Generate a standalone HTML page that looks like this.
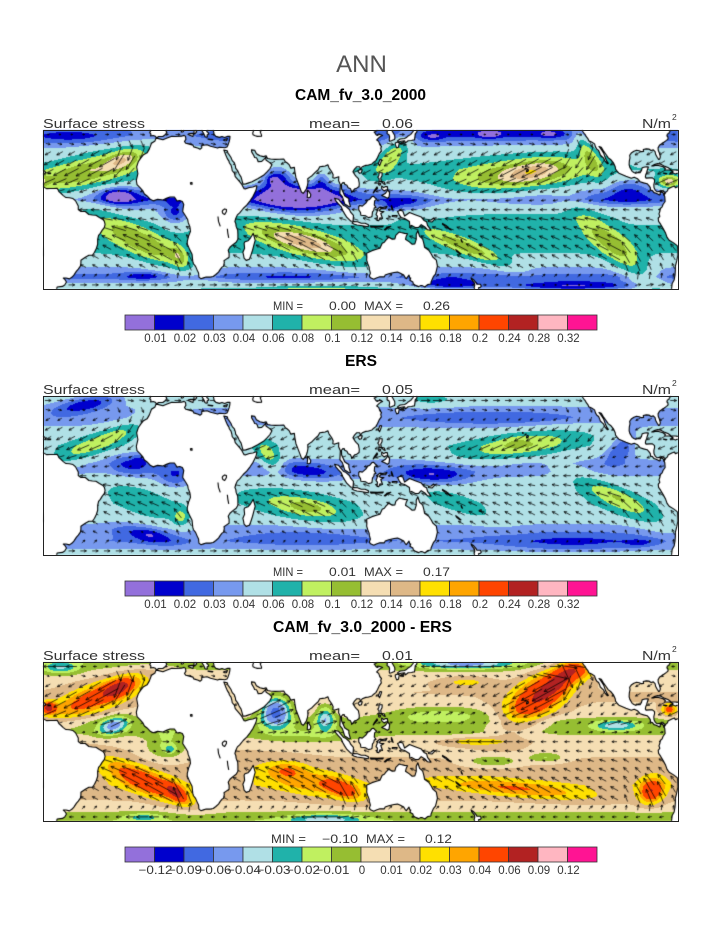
<!DOCTYPE html>
<html><head><meta charset="utf-8">
<style>
html,body{margin:0;padding:0;background:#fff;width:723px;height:935px;overflow:hidden;}
#c{position:absolute;left:0;top:0;}
svg{position:absolute;left:0;top:0;}
text{font-family:"Liberation Sans",sans-serif;fill:#222;}
.t{font-size:13px;fill:#333;}
.b{font-weight:bold;font-size:15.5px;fill:#000;}
.m{font-size:11.5px;fill:#333;}
.l{font-size:11.5px;text-anchor:middle;fill:#333;}
</style></head><body>
<canvas id="c" width="723" height="935"></canvas>
<svg width="723" height="935" viewBox="0 0 723 935" xmlns="http://www.w3.org/2000/svg">
<defs>
<g id="cb" stroke="#333" stroke-width="0.8">
<rect x="125" y="0" width="29.5" height="15" fill="#9370DB"/>
<rect x="154.5" y="0" width="29.5" height="15" fill="#0000CD"/>
<rect x="184" y="0" width="29.5" height="15" fill="#4169E1"/>
<rect x="213.5" y="0" width="29.5" height="15" fill="#7799EE"/>
<rect x="243" y="0" width="29.5" height="15" fill="#B0E0E6"/>
<rect x="272.5" y="0" width="29.5" height="15" fill="#20B2AA"/>
<rect x="302" y="0" width="29.5" height="15" fill="#C0F060"/>
<rect x="331.5" y="0" width="29.5" height="15" fill="#96BE32"/>
<rect x="361" y="0" width="29.5" height="15" fill="#F5DEB3"/>
<rect x="390.5" y="0" width="29.5" height="15" fill="#DEB887"/>
<rect x="420" y="0" width="29.5" height="15" fill="#FFE000"/>
<rect x="449.5" y="0" width="29.5" height="15" fill="#FFA500"/>
<rect x="479" y="0" width="29.5" height="15" fill="#FF4500"/>
<rect x="508.5" y="0" width="29.5" height="15" fill="#B22222"/>
<rect x="538" y="0" width="29.5" height="15" fill="#FFB6C1"/>
<rect x="567.5" y="0" width="29.5" height="15" fill="#FF1493"/>
</g>
</defs>
<text x="361.5" y="72" font-size="24" text-anchor="middle" style="fill:#555">ANN</text>

<!-- Panel 1 -->
<text class="b" x="295" y="100" textLength="131" lengthAdjust="spacingAndGlyphs">CAM_fv_3.0_2000</text>
<text class="t" x="43" y="128" textLength="102" lengthAdjust="spacingAndGlyphs">Surface stress</text>
<text class="t" x="309" y="128" textLength="51" lengthAdjust="spacingAndGlyphs">mean=</text>
<text class="t" x="382" y="128" textLength="31" lengthAdjust="spacingAndGlyphs">0.06</text>
<text class="t" x="642" y="128" textLength="29" lengthAdjust="spacingAndGlyphs">N/m</text>
<text x="672" y="120" font-size="8.5" style="fill:#333">2</text>
<rect x="43.5" y="130.5" width="635" height="159" fill="none" stroke="#222" stroke-width="1"/>
<text class="m" x="273" y="310" textLength="30" lengthAdjust="spacingAndGlyphs">MIN =</text>
<text class="m" x="329" y="310" textLength="27" lengthAdjust="spacingAndGlyphs">0.00</text>
<text class="m" x="364" y="310" textLength="39" lengthAdjust="spacingAndGlyphs">MAX =</text>
<text class="m" x="423" y="310" textLength="27" lengthAdjust="spacingAndGlyphs">0.26</text>
<use href="#cb" transform="translate(0,315)"/>
<g transform="translate(1,342)">
<text class="l" x="154.5" y="0">0.01</text><text class="l" x="184" y="0">0.02</text><text class="l" x="213.5" y="0">0.03</text><text class="l" x="243" y="0">0.04</text><text class="l" x="272.5" y="0">0.06</text><text class="l" x="302" y="0">0.08</text><text class="l" x="331.5" y="0">0.1</text><text class="l" x="361" y="0">0.12</text><text class="l" x="390.5" y="0">0.14</text><text class="l" x="420" y="0">0.16</text><text class="l" x="449.5" y="0">0.18</text><text class="l" x="479" y="0">0.2</text><text class="l" x="508.5" y="0">0.24</text><text class="l" x="538" y="0">0.28</text><text class="l" x="567.5" y="0">0.32</text>
</g>

<!-- Panel 2 -->
<text class="b" x="345" y="366" textLength="32" lengthAdjust="spacingAndGlyphs">ERS</text>
<text class="t" x="43" y="394" textLength="102" lengthAdjust="spacingAndGlyphs">Surface stress</text>
<text class="t" x="309" y="394" textLength="51" lengthAdjust="spacingAndGlyphs">mean=</text>
<text class="t" x="382" y="394" textLength="31" lengthAdjust="spacingAndGlyphs">0.05</text>
<text class="t" x="642" y="394" textLength="29" lengthAdjust="spacingAndGlyphs">N/m</text>
<text x="672" y="386" font-size="8.5" style="fill:#333">2</text>
<rect x="43.5" y="396.5" width="635" height="159" fill="none" stroke="#222" stroke-width="1"/>
<text class="m" x="273" y="576" textLength="30" lengthAdjust="spacingAndGlyphs">MIN =</text>
<text class="m" x="329" y="576" textLength="27" lengthAdjust="spacingAndGlyphs">0.01</text>
<text class="m" x="364" y="576" textLength="39" lengthAdjust="spacingAndGlyphs">MAX =</text>
<text class="m" x="423" y="576" textLength="27" lengthAdjust="spacingAndGlyphs">0.17</text>
<use href="#cb" transform="translate(0,581)"/>
<g transform="translate(1,608)">
<text class="l" x="154.5" y="0">0.01</text><text class="l" x="184" y="0">0.02</text><text class="l" x="213.5" y="0">0.03</text><text class="l" x="243" y="0">0.04</text><text class="l" x="272.5" y="0">0.06</text><text class="l" x="302" y="0">0.08</text><text class="l" x="331.5" y="0">0.1</text><text class="l" x="361" y="0">0.12</text><text class="l" x="390.5" y="0">0.14</text><text class="l" x="420" y="0">0.16</text><text class="l" x="449.5" y="0">0.18</text><text class="l" x="479" y="0">0.2</text><text class="l" x="508.5" y="0">0.24</text><text class="l" x="538" y="0">0.28</text><text class="l" x="567.5" y="0">0.32</text>
</g>

<!-- Panel 3 -->
<text class="b" x="273" y="632" textLength="179" lengthAdjust="spacingAndGlyphs">CAM_fv_3.0_2000 - ERS</text>
<text class="t" x="43" y="660" textLength="102" lengthAdjust="spacingAndGlyphs">Surface stress</text>
<text class="t" x="309" y="660" textLength="51" lengthAdjust="spacingAndGlyphs">mean=</text>
<text class="t" x="382" y="660" textLength="31" lengthAdjust="spacingAndGlyphs">0.01</text>
<text class="t" x="642" y="660" textLength="29" lengthAdjust="spacingAndGlyphs">N/m</text>
<text x="672" y="652" font-size="8.5" style="fill:#333">2</text>
<rect x="43.5" y="662.5" width="635" height="159" fill="none" stroke="#222" stroke-width="1"/>
<text class="m" x="271" y="843" textLength="35" lengthAdjust="spacingAndGlyphs">MIN =</text>
<text class="m" x="322" y="843" textLength="36" lengthAdjust="spacingAndGlyphs">−0.10</text>
<text class="m" x="366" y="843" textLength="39" lengthAdjust="spacingAndGlyphs">MAX =</text>
<text class="m" x="425" y="843" textLength="27" lengthAdjust="spacingAndGlyphs">0.12</text>
<use href="#cb" transform="translate(0,847)"/>
<g transform="translate(1,874)">
<text class="l" x="154.5" y="0" textLength="34" lengthAdjust="spacingAndGlyphs">−0.12</text><text class="l" x="184" y="0" textLength="34" lengthAdjust="spacingAndGlyphs">−0.09</text><text class="l" x="213.5" y="0" textLength="34" lengthAdjust="spacingAndGlyphs">−0.06</text><text class="l" x="243" y="0" textLength="34" lengthAdjust="spacingAndGlyphs">−0.04</text><text class="l" x="272.5" y="0" textLength="34" lengthAdjust="spacingAndGlyphs">−0.03</text><text class="l" x="302" y="0" textLength="34" lengthAdjust="spacingAndGlyphs">−0.02</text><text class="l" x="331.5" y="0" textLength="34" lengthAdjust="spacingAndGlyphs">−0.01</text><text class="l" x="361" y="0">0</text><text class="l" x="390.5" y="0">0.01</text><text class="l" x="420" y="0">0.02</text><text class="l" x="449.5" y="0">0.03</text><text class="l" x="479" y="0">0.04</text><text class="l" x="508.5" y="0">0.06</text><text class="l" x="538" y="0">0.09</text><text class="l" x="567.5" y="0">0.12</text>
</g>
</svg>
<script>
(function(){
var cv=document.getElementById('c');var ctx=cv.getContext('2d');
var X0=43,W=635,H=159,TOPS=[130,396,662];
var COLS=['#9370DB','#0000CD','#4169E1','#7799EE','#B0E0E6','#20B2AA','#C0F060','#96BE32','#F5DEB3','#DEB887','#FFE000','#FFA500','#FF4500','#B22222','#FFB6C1','#FF1493'];
var RGB=COLS.map(function(c){return [parseInt(c.slice(1,3),16),parseInt(c.slice(3,5),16),parseInt(c.slice(5,7),16)];});
var LV1=[0.01,0.02,0.03,0.04,0.06,0.08,0.1,0.12,0.14,0.16,0.18,0.2,0.24,0.28,0.32];
var LV3=[-0.12,-0.09,-0.06,-0.04,-0.03,-0.02,-0.01,0,0.01,0.02,0.03,0.04,0.06,0.09,0.12];

var P1={base:[[-41,0.065],[-38,0.045],[-34,0.025],[-29,0.04],[-22,0.06],[-15,0.065],[-8,0.06],[-3,0.05],[1,0.045],[5,0.027],[9,0.035],[15,0.055],[20,0.06],[25,0.05],[30,0.042],[34,0.03],[37,0.025],[41,0.03]],
blobs:[[-45,19,0.06,40,8,15],[-25,25,0.05,9,4,18],[-55,37,-0.012,18,3,0],[-28,7,-0.03,9,4,0],[-20,4,-0.012,16,6,0],[5,-2,-0.03,8,7,0],
[-15,-16,0.055,30,7,-25],[7,-24,0.04,6,4,-55],[-13,-33.5,-0.015,10,2,0],
[75,5,-0.05,25,7,0],[63,16,-0.04,9,6,0],[60,15,-0.012,3,2,0],[88,15,-0.025,5,5,0],
[80,-17,0.06,35,7,-15],[76,-16,0.035,16,3.5,-12],[85,-41,0.04,30,2.5,0],[70,-34,-0.008,25,2,0],
[200,17,0.055,40,8,8],[207,19,0.04,14,4.5,10],[190,22,0.012,55,10,0],[239,28,0.045,12,4,-60],[128,27,0.05,12,5,45],
[185,39,-0.015,45,3,0],[151,36.5,-0.015,6,2,0],[183,37.5,-0.015,6,2,0],[217,38,-0.015,6,2,0],[260,5,-0.01,20,4,0],[262,12,-0.02,12,6,0],[135,3,-0.02,15,4,0],[128,1.3,-0.015,4,2,0],
[200,-4,0.015,50,3,0],[170,-19,0.05,25,4,-20],[255,-20,0.045,30,7,-40],[250,-14,0.01,15,4,-20],[230,-39,-0.04,45,3,0],[160,-38,-0.03,20,3,0],[285,14,0.08,6,3,0],[-75,14,0.08,6,3,0]]};

var P2={base:[[-41,0.055],[-37,0.04],[-33,0.03],[-27,0.035],[-20,0.05],[-14,0.055],[-8,0.052],[-3,0.045],[2,0.035],[6,0.035],[10,0.045],[15,0.055],[20,0.05],[25,0.04],[29,0.035],[34,0.04],[41,0.05]],
blobs:[[-40,16,0.04,30,5,20],[-28,21,0.01,8,3,20],[-45,36,-0.03,18,4,10],[-20,6,-0.02,12,6,0],[-15,8,-0.01,4,3,0],[5,-1,-0.02,10,6,0],
[-12,-14,0.018,28,8,-25],[8,-21,0.035,4,4,-60],[-10,-30,-0.02,18,4,-10],[-9,-29.5,-0.005,5,2,0],[58,10,0.045,5,9,45],[80,2,-0.022,18,4,-5],
[78,-16,0.042,29,6.5,-10],[80,-16,0.022,9,2.5,-5],[80,-32,-0.01,30,4,0],[200,15,0.045,35,6,8],[198,17,0.012,8,3,0],[185,29,-0.015,50,4,0],
[150,0,-0.03,22,5,0],[258,14,-0.03,10,6,30],[255,-12,0.035,30,6,-25],[257,-11,0.015,14,3,-20],[165,-14,0.015,25,5,-20],[230,-34,-0.015,40,5,0],[268,-34,-0.012,8,2,0],[150,38,0.02,15,3,0]]};

var P3={base:[[-41,-0.012],[-37,-0.004],[-33,0.006],[-28,0.012],[-22,0.018],[-15,0.014],[-8,0.01],[0,0.008],[5,-0.004],[10,-0.004],[15,0.008],[20,0.01],[25,0.01],[30,0.008],[35,0.002],[41,-0.01]],
blobs:[[-40,22,0.04,30,7,20],[-27,27,0.035,9,4,20],[-67,17,0.05,4,3,0],[285,16,0.04,4,3,0],[-60,37,-0.03,10,3,0],[-30,8,-0.045,8,4,15],[0,-2,-0.02,12,7,0],[2,-4,-0.02,3,2,0],
[-12,-20,0.04,25,6,-22],[6,-26,0.035,7,3.5,-35],[-13,-38,-0.02,10,2,0],[62,15,-0.075,8,7,0],[90,12,-0.04,5,6,0],[80,2,-0.012,30,4,0],
[80,-20,0.02,30,7,-12],[100,-24,0.03,10,4,-20],[68,-14,0.015,10,4,0],[90,-39,-0.03,20,2.5,0],[210,22,0.05,22,10,35],[225,33,0.035,12,6,40],[235,36,0.03,8,5,0],
[170,30,0.015,15,3,0],[170,39,-0.04,25,2.5,0],[155,14,-0.02,30,4,0],[255,8,-0.035,12,2.5,0],[175,0,0.02,15,2,0],[185,-10,-0.02,15,3,0],
[215,-8,-0.02,10,2.5,0],[200,-24,0.025,40,4,-5],[275,-25,0.045,6,7,-60]]};

var AF=[-6,35.8,-6.5,34.5,-8.5,33.3,-9.7,30.5,-11,28.5,-13,27.6,-14.5,26,-16,24,-16.9,21.5,-16.5,19.5,-16.2,18,-17.1,14.7,-16.7,12.5,-15,11,-13.5,9.5,-12.5,7.8,-11,6.8,-9,5,-7.5,4.4,-5,5.1,-2,4.8,0,5.6,2,6.3,4.5,6.3,6,4.3,7.5,4.5,9,4,9.8,2.5,9.4,0.5,9.2,-1,11,-3.5,12,-5,12.3,-6.5,13.3,-8.8,13.6,-11,12.5,-13.5,11.8,-16,11.8,-17.3,13.2,-20.3,14.5,-22.5,14.9,-26,15.3,-27.3,16.5,-28.6,17.4,-30.5,18.2,-32,18.4,-34,19.5,-34.8,21,-34.4,22.5,-34,25,-34,26.5,-33.7,28,-32.7,29.5,-31.5,30.6,-30,31.5,-29,32.4,-28.5,32.8,-26.5,32.6,-25.8,33.5,-25.2,35.5,-24,35.5,-22,35,-20.5,36,-19,37.5,-17.8,39.5,-16.5,40.5,-15,40.5,-12.5,40.4,-10.5,39.5,-8.5,39.3,-7,38.8,-6,39.2,-4.7,40.2,-2.7,41.5,-1.7,43.5,0.5,45.5,2.2,47.5,4.5,49,6.5,50.7,9.5,51.3,11.8,50.8,11.9,49,11.3,47,11.1,45,10.4,44,10.5,43.3,11.6,42.8,12.5,41.7,13.8,40,15.5,39,16.5,38.5,18.3,37.3,19.5,37,21,36.6,22.3,35.6,23.5,35.5,24.2,34.5,25.6,33.8,27,32.7,29.5,32.5,29.9,34.5,29.5,34.9,28.2,35.2,28,36.5,26.3,37.3,24.6,38.5,23.5,39.1,21.8,39.2,20.8,40.5,19.3,41.2,17.9,42.3,16.3,42.7,15,43.2,13.3,43.5,12.7,45,12.9,48.5,14,52,15.6,55,17.2,57,18.9,58.6,20.5,59.8,22.5,58.5,23.6,56.4,24.9,56.3,26.3,55.5,25.5,54,24.2,52,24,51.5,25.3,51,26,50,26.2,49.5,27.2,48.3,29,48.2,30,50,29.8,51,28,53,27,55,26.6,56.5,27,57.3,25.7,59,25.4,61.6,25.2,64,25.3,66.5,25.4,67.4,24,68.5,23.4,69.5,22.6,70.5,20.8,72.5,21.2,72.8,19,73.4,16,74.5,13.5,75.6,11,76.5,8.8,77.5,8.1,78.2,8.9,79.3,10.3,79.8,11.7,80.2,13.4,80.1,15.5,81.3,16.3,82.5,17,84.3,18.7,86,20,86.9,21.5,88.5,21.7,90,21.9,91.5,22.5,92,21.3,92.3,20.7,93.7,19,94.5,17.5,94.3,16,95.5,15.8,97.7,16.5,97.6,14.5,98.6,12.5,98.4,9.5,98.3,8,99.7,6.5,100.3,5,101,2.8,102.5,2,103.5,1.3,104.3,1.5,103.4,4.2,103.4,5.5,102.2,6.2,101,6.9,100.3,8.4,99.3,10.3,99.2,12.7,100,13.5,100.9,13.4,101,12.7,102.3,12.2,103,11,104.3,10.4,105,9,105,8.6,106.7,10.4,107.5,10.5,109.2,11.6,109.3,13.2,108.8,15.5,107.5,16.7,106.6,17.7,105.7,19,106.6,20.3,107.8,21.5,109.5,21.5,110,20.3,111,21.5,113,22.2,114.2,22.3,116.5,22.9,117.5,23.8,118.7,24.6,119.6,26,120,26.8,120.6,28,121.8,29.5,121.5,30.8,121.9,31.7,121,32.5,120.3,34.3,119.2,35,120.3,36,121.2,36.7,122.5,37.2,121.5,37.6,120.7,37.8,119.5,37.2,118.8,37.7,118.2,38.5,117.7,39,118.5,39.2,119.8,40,121,40.8,124.3,40.8,124.5,39.8,125.3,39.5,125,38.3,126.2,37.5,126.5,36.5,126.3,35,126.5,34.4,127.5,34.6,128.5,35,129.3,35.2,129.5,36,129.4,37.2,128.6,38.5,127.8,39.8,128.5,40.8,26.5,40.8,26.5,40,26.8,39,27,37.8,28,36.8,30,36.3,31.5,36.7,33,36.2,34.7,36.8,36,36.8,35.9,35.5,35.5,34,34.9,32.5,34.3,31.4,33,31.1,32,31.2,30,31.3,29,30.9,25,31.8,23,32.6,20,32.2,20,31,19,30.3,18,30.8,15.5,31.5,15,32.4,13,32.9,11,33.3,10.2,34.2,11,35.3,10.8,36.8,10,37.3,8.5,36.9,5,36.7,3,36.8,0,35.8,-2,35.1,-5.5,35.9];
var AUS=[113.5,-22,114,-21.8,116.5,-20.7,119,-20,121,-19.5,122.3,-17,123.5,-16.5,124.5,-15.3,126,-14,128,-15,129.5,-14.8,130,-13,132,-11.3,133,-11.6,135,-12,136.7,-12.2,136,-13.3,135.5,-15,137.7,-16.3,139.3,-17.5,140.8,-17.3,141.6,-15,141.6,-12.5,142.5,-10.7,143.5,-13.5,144.5,-14.2,145.3,-15,145.9,-17,146.3,-19,148.7,-20.5,150.2,-22.5,151,-23.9,153,-25.5,153.6,-28.5,153.1,-30.5,152.5,-32.5,151.3,-33.8,150.8,-34.8,150,-36.5,149.9,-37.5,148,-37.8,146.5,-39,145,-38.3,144,-38.3,143,-38.8,141.5,-38.3,140,-37.5,139.7,-36.5,138,-35.6,138.5,-34.5,138,-34.5,137.5,-33,136,-34.8,135.5,-34.5,134.5,-33,132.3,-32,131,-31.5,129,-31.7,126,-32.3,124,-33,123.5,-33.9,121,-33.8,119,-34.5,117.5,-35.1,115.7,-34.4,115,-33.5,115.6,-32,115,-30,114.9,-29,114,-27,113.5,-25.5,113.6,-24];
var SAM=[-77.9,7.2,-77.5,6.5,-77.3,4,-78.5,2.5,-79,1.3,-80,0.5,-80.3,-1,-80.8,-2.2,-80.3,-3.4,-81.2,-4.5,-81,-6,-79.8,-7.5,-78.5,-9.5,-77,-12,-76.2,-14,-75,-15.5,-72.5,-16.8,-70.3,-18.3,-70.2,-20,-70.1,-23,-70.6,-25.5,-71.5,-28.5,-71.5,-30.5,-71.7,-33,-72.2,-35.5,-73.3,-37.2,-73.6,-39.5,-73.8,-41.5,-63,-41.5,-62.3,-40.3,-62,-39,-59,-38.7,-57.7,-38,-56.7,-36.5,-57.5,-35.3,-58.5,-34.5,-57,-34.5,-55,-34.9,-53.5,-34,-52.5,-33,-51,-31,-50,-30,-48.8,-28.5,-48.5,-27,-48.5,-25.5,-46,-24,-44,-23,-42,-23,-40.8,-21.5,-39.7,-19.5,-39,-17.5,-39,-15,-38.5,-13,-37.5,-12,-36.5,-10.5,-35.2,-9,-34.8,-7.5,-35.2,-6,-36,-5,-38,-4,-40,-2.9,-42,-2.8,-44,-2.5,-46,-1,-48.5,-1,-50,0,-50,1.8,-51.5,4.3,-53,5.5,-55,5.9,-57,6,-58.5,7,-60,8.3,-61,9,-61.5,10,-62,10.7,-64,10.6,-66,10.6,-68,10.5,-70,11.5,-71.5,11,-72,11.8,-73.5,11.3,-75.5,10.5,-76,9.4,-77,8.6];
var NAM=[-124.4,41,-124.4,40.3,-123.8,39,-123,38,-122.5,37.5,-121.9,36.5,-121,35.5,-120.6,34.6,-119,34,-117.3,33,-116.8,31.5,-116,30.3,-115,29.7,-114.2,28,-114.1,27.5,-112.3,26,-111.5,24.5,-110,23,-109.5,23.2,-110.3,24.2,-111,25.5,-112.2,28.5,-113.3,30,-114.8,31.7,-113.5,31.3,-112.5,29.8,-111,27.9,-109.5,26,-108,25,-106.5,23.3,-105.6,21.5,-105.4,20.3,-104.3,19,-103.5,18.3,-101.5,17.5,-99.5,16.7,-96.5,15.7,-94.8,16.2,-93,15.5,-91.5,14,-89.5,13.4,-87.5,13,-86.5,12,-85.7,11,-85.6,9.8,-84.5,9.5,-83.6,8.5,-82.8,8.3,-81.5,7.8,-80.5,7.3,-80,7.6,-80.2,8.3,-79.5,8.9,-78.5,8.4,-77.9,7.2,-77.4,8.7,-79,9.5,-80.5,9.1,-81.8,8.9,-82.8,9.6,-83.6,10.9,-83.7,12.5,-83.3,14,-83.3,15,-84.5,15.9,-86,15.9,-88.1,15.8,-88.5,16.4,-88.3,17.5,-87.8,18.5,-87.5,19.5,-86.8,21.4,-87.5,21.5,-88.8,21.4,-90.3,21,-90.7,19.7,-91.5,18.5,-92.5,18.6,-94,18.2,-95,18.6,-96,19.2,-96.5,20,-97.3,21.2,-97.7,22.5,-97.6,24.5,-97.2,26,-97.4,27.3,-96.5,28.4,-95,29.3,-93.5,29.8,-92,29.6,-90.8,29.1,-89.5,29.2,-89.7,30.2,-88,30.5,-86.5,30.4,-85.3,29.7,-84,30,-83,29.1,-82.7,27.8,-81.8,26.3,-81,25.2,-80.4,25.3,-80,26.5,-80.5,28.3,-81.2,29.8,-81.3,31,-80.5,32.3,-79,33.3,-77.8,34,-76.5,34.8,-75.6,35.5,-75.8,36.7,-76.3,37,-76,38,-75.2,38.2,-75,38.8,-74.5,39.5,-74,40.2,-73.5,40.6,-72,41];
var LANDS=[AF,AUS,SAM,NAM,
[-10,40.8,-9,39.5,-9.5,38.7,-8.8,37.9,-9,37,-7.5,37.2,-6.3,36.8,-5.6,36,-4.5,36.7,-2.1,36.7,-0.7,37.6,0.2,38.8,-0.3,39.5,0.5,40.5,1,40.8],
[14.5,40.8,15.7,40,15.6,38.9,15.7,38,16.1,38,16.6,38.5,17.1,39,17.1,39.4,16.5,39.7,16.9,40.4,17.8,40.5,18.5,40.2,18.5,40.8],
[12.4,38,13.3,38.2,15.6,38.3,15.1,37.3,15,36.7,14.3,37,12.6,37.6],
[8.4,39,8.6,40.8,9.7,40.8,9.6,39.2,9,39],
[19.5,40.8,20.2,39.6,21,38.3,21.6,37.4,21.7,36.8,22.5,36.4,23.2,36.5,23,37.5,24,38,23.5,38.8,22.8,39.2,23.3,39.9,24.5,40.5,25,40.8],
[23.5,35.5,26.3,35.2,26,35,24,35.2],[32.3,35,34.6,35.7,34,34.6,33,34.6],
[49.2,-12,50.3,-15.5,49.8,-17,48.8,-20.5,47.7,-23.5,47,-25,45.2,-25.6,44,-24.5,43.7,-23,43.3,-21.5,44.3,-19.5,44,-17,44.5,-16.2,46.3,-15.7,47.5,-14.5,48.2,-13.5],
[79.8,6,80,8.2,79.9,9.7,80.8,9,81.8,7.5,81.6,6.3,80.6,5.9],
[95.3,5.6,97.5,5.2,98.7,3.8,100.5,2,101.5,1.7,103.7,0,104.5,-1.5,106,-3,105.8,-5.8,104.5,-5.9,102.3,-4,101,-2.2,100,-0.6,99,1.5,97.5,2.8,96,4.3],
[105.2,-6.8,106,-6,108.3,-6.2,110.4,-6.9,112.6,-6.9,114.5,-7.7,114.4,-8.7,111,-8.2,108,-7.8,106.5,-7.4],
[115.5,-8.3,119.5,-8.4,123,-8.3,122.5,-8.8,119.5,-8.8,116,-8.9],[123.5,-10.2,125,-9,127.2,-8.4,125.3,-9.5,124,-10.3],
[109,1.5,109.6,2,111,1.7,113,3.2,114,4.6,115.3,5.2,116.5,6.5,117.3,6.7,118.3,5.8,119.2,5.2,118,4.3,117.8,2.3,118.8,1,117.8,0.8,117.5,-0.5,116.8,-1.2,116.5,-3.5,115.9,-3.8,114.5,-4.1,113,-3.2,111.7,-3,110.2,-2.9,110,-1.5,109,-0.2],
[119.4,-5.5,119.6,-3.3,118.8,-2.6,119.5,-0.8,120,0.5,121,1.2,122.5,1,124.5,1.3,125,1.6,124.3,0.4,121.5,0.5,120.5,-0.5,121.6,-1,123.3,-1,121.5,-2,122.5,-4.5,121,-4.2,120.4,-5.6],
[127.5,2,128,1,128.5,-0.5,127.8,0.3,127.5,1],[126,-3.2,127,-3.8,126.2,-3.6],[128,-3,130.8,-3,130.5,-3.8,128,-3.5],
[131,-1,132.5,-0.4,134,-0.8,135,-3.3,137.8,-1.5,141,-2.6,144.5,-3.8,146,-5.5,147.5,-6.2,148,-8,150,-10.4,148,-10.2,146.5,-8.8,144.4,-7.6,143,-9,141,-9.1,139,-8,138,-8.4,137.7,-6,135,-4.5,133,-4,132,-2.8,131.3,-1.5],
[148.5,-5.5,150,-5.3,151.5,-4.3,152,-5,150.5,-6.3,148.5,-6],[156.5,-7,158.5,-8,160,-9.3,161.5,-10.3,160.5,-10,158,-8.5,156.5,-7.5],
[172.7,-34.4,174.3,-35.5,175.5,-36.8,176,-37.6,178,-37.6,178.5,-38.6,177.9,-39.2,177,-39.3,176.9,-40,176,-41.3,175,-41.5,174.7,-40,174.4,-39.3,174.8,-38,174.6,-37,173,-35.3],
[172.5,-40.4,174.3,-41,173,-42,172,-41.5],
[164,-20.2,165,-20.8,167,-22.3,166.5,-22.4,164.5,-21],[177.3,-17.5,178.5,-17.3,178.3,-18.2,177.3,-18],[167,-15,167.3,-15.5,167.8,-16.5,167.3,-16],
[120.6,18.5,122.3,18.5,122.2,17,121.5,15.8,121.7,14.2,123.5,13.8,124,12.6,123,13,122,13.8,120.6,14.2,120.5,15.5,119.8,16.3,120.4,17],
[122,7,124,8,125.5,9.8,126.5,8.5,126.2,6.3,125.3,5.6,124,6.3],[122,11.8,123.2,11,124,11.5,125.2,11.5,125.5,10,124.3,9.8,123.5,9.3,122.5,10,122,10.5],
[117.2,8.3,119.7,10.7,119.4,11.4,117.8,9.4],[120.3,13.5,121.5,13,121,12.2,120.3,12.5],
[120.1,23,121,25.1,122,25,121.5,23.5,120.8,22],[108.6,19.2,109.5,20.1,111,20,110.5,18.5,109.5,18.2],
[129.7,33.5,131,34,132,33.5,131.5,31.3,130.5,31,129.8,32.5],[132.5,33.2,134.5,34.2,134.7,33.5,133,32.8],
[131,34.5,132.5,35.5,135,35.7,136,36.2,137,37,138.5,37.8,140,39.5,140,40.8,141.8,40.8,142,39,141,38,140.8,36,140.6,35,139.8,35,139,34.7,137,34.6,135.5,33.5,135,34.6,133,34.3,131.5,33.9],
[204.2,18.9,205.2,19.4,205,20.2,204.2,19.9],[203.2,20.7,204,20.9,203.7,20.5],[201.8,21.6,202.4,21.4,202,21.2],
[-84.9,21.9,-83,22.8,-81.5,23.1,-80,22.9,-77.5,21.7,-75.7,21.1,-74.2,20.2,-74.5,19.9,-77.5,19.9,-77.2,20.6,-78.5,21.5,-81,22.1,-82.5,22.3,-84,21.9],
[-74.4,19.9,-72.8,19.9,-71.5,19.9,-70,19.7,-69,19.2,-68.4,18.6,-69,18.4,-70.5,18.2,-71.5,17.8,-72.5,18.3,-74.4,18.4,-73.5,18.6,-72.8,19],
[-78.3,18.4,-76.3,18.1,-76.8,17.9,-78.3,18.2],[-67.2,18.5,-65.6,18.4,-65.7,18,-67.2,18]];
var LAKES=[[31.8,-0.5,33,0.3,34,0,34,-1,33,-2.5,32,-2,31.6,-1.2,31.8,-0.5],[29.2,-3.5,29.5,-6,30.5,-8.5],[34.5,-9.7,34.8,-12,35.3,-14.3],[13.5,13.5,14.5,13.5,14.5,12.7,13.8,12.7,13.5,13.5],[49,40.8,49.3,39.5,48.9,38.4,49.1,37.6,50.3,37.1,51.5,36.8,53.9,36.9,53.9,37.4,53.1,39.2,53.7,39.6,53,40.8]];

function interp(t,x){if(x<=t[0][0])return t[0][1];for(var i=1;i<t.length;i++){if(x<=t[i][0]){var f=(x-t[i-1][0])/(t[i][0]-t[i-1][0]);return t[i-1][1]+f*(t[i][1]-t[i-1][1]);}}return t[t.length-1][1];}
function prep(P){P.b=P.blobs.map(function(b){var r=b[5]*Math.PI/180;return [b[0],b[1],b[2],1/(b[3]*b[3]),1/(b[4]*b[4]),Math.cos(r),Math.sin(r),3.5*Math.max(b[3],b[4])];});}
function F(P,lon,lat){var v=interp(P.base,lat);for(var i=0;i<P.b.length;i++){var b=P.b[i];var dx=lon-b[0],dy=lat-b[1];if(dx>b[7]||dx<-b[7]||dy>b[7]||dy<-b[7])continue;var a=dx*b[5]+dy*b[6],c=-dx*b[6]+dy*b[5];v+=b[2]*Math.exp(-(a*a*b[3]+c*c*b[4]));}return v;}
function lev(v,LV){var i=0;while(i<15&&v>=LV[i])i++;return i;}
function dirv(lon,lat){
  var u=-(Math.exp(-Math.pow((lat-13)/12,2))+Math.exp(-Math.pow((lat+13)/12,2)))+0.9*(Math.exp(-Math.pow((lat-42)/7,2))+Math.exp(-Math.pow((lat+44)/7,2)));
  var v=-0.45*Math.exp(-Math.pow((lat-16)/10,2))+0.45*Math.exp(-Math.pow((lat+16)/10,2));
  var L=((lon%360)+360)%360;
  if(lat>0&&((L>225&&L<250)||(L>330&&L<350)))v-=0.5*Math.exp(-Math.pow((lat-22)/12,2));
  if(lat<0&&((L>255&&L<290)||(L>0&&L<15)||(L>95&&L<115)))v+=0.6*Math.exp(-Math.pow((lat+20)/12,2));
  return [u,v];
}
function path(pts,top,off,close){ctx.beginPath();for(var i=0;i<pts.length;i+=2){var x=X0+(pts[i]+off+70)/360*W,y=top+(40-pts[i+1])/80*H;if(i)ctx.lineTo(x,y);else ctx.moveTo(x,y);}if(close)ctx.closePath();}
function panel(P,top,LV,diff){
  prep(P);
  var img=ctx.createImageData(W,H),d=img.data;
  for(var py=0;py<H;py++){var lat=40-(py+0.5)/H*80;
    for(var px=0;px<W;px++){var lon=-70+(px+0.5)/W*360;var c=RGB[lev(F(P,lon,lat),LV)];var k=(py*W+px)*4;d[k]=c[0];d[k+1]=c[1];d[k+2]=c[2];d[k+3]=255;}}
  ctx.putImageData(img,X0,top);
  ctx.save();ctx.beginPath();ctx.rect(X0,top,W,H);ctx.clip();
  ctx.strokeStyle='#000';ctx.lineWidth=0.75;ctx.beginPath();
  var ca=Math.cos(0.45),sa=Math.sin(0.45);
  for(var gy=top+4.5;gy<top+H;gy+=9.4){for(var gx=X0+5;gx<X0+W;gx+=11.8){
    var lon=-70+(gx-X0)/W*360,lat=40-(gy-top)/H*80;
    var m=F(P,lon,lat),dv=dirv(lon,lat),u=dv[0],v=dv[1],n=Math.hypot(u,v);
    if(n<1e-3){u=1;v=0;n=1;}u/=n;v/=n;var L;
    if(diff){if(m<0){u=-u;v=-v;}L=Math.min(26,Math.abs(m)*380+2);}else L=Math.min(24,Math.max(2,m*140));
    var x1=gx-u*L/2,y1=gy+v*L/2,x2=gx+u*L/2,y2=gy-v*L/2;
    ctx.moveTo(x1,y1);ctx.lineTo(x2,y2);
    var h=Math.min(3.5,1+L*0.3),bx=-u,by=v;
    ctx.moveTo(x2,y2);ctx.lineTo(x2+h*(bx*ca-by*sa),y2+h*(bx*sa+by*ca));
    ctx.moveTo(x2,y2);ctx.lineTo(x2+h*(bx*ca+by*sa),y2+h*(-bx*sa+by*ca));
  }}
  ctx.stroke();
  ctx.fillStyle='#fff';ctx.strokeStyle='#000';ctx.lineWidth=1.1;ctx.lineJoin='round';
  var offs=[-360,0,360];
  for(var i=0;i<LANDS.length;i++){for(var j=0;j<3;j++){path(LANDS[i],top,offs[j],true);ctx.fill();ctx.stroke();}}
  for(var i=0;i<LAKES.length;i++){path(LAKES[i],top,0,false);ctx.stroke();}
  ctx.restore();
}
panel(P1,TOPS[0],LV1,false);
panel(P2,TOPS[1],LV1,false);
panel(P3,TOPS[2],LV3,true);
})();
</script>
</body></html>
